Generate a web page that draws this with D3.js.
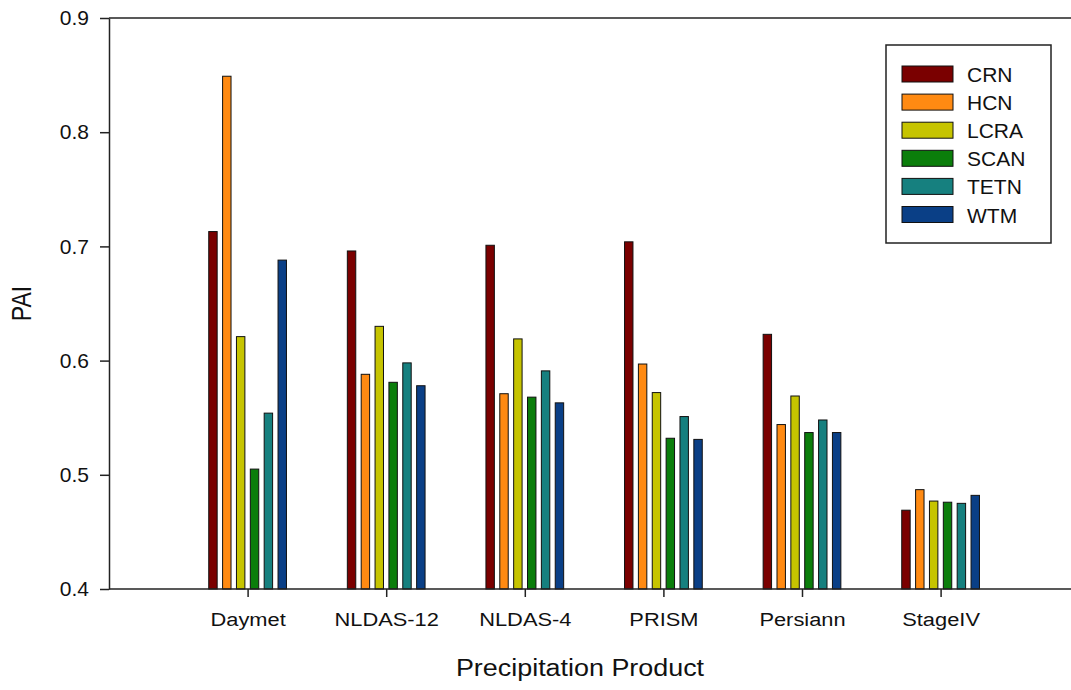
<!DOCTYPE html>
<html>
<head>
<meta charset="utf-8">
<script src="https://cdn.jsdelivr.net/npm/d3@7"></script>
<style>
  body { margin: 0; background: #fff; }
  svg { display: block; }
  text { font-family: "Liberation Sans", Arial, sans-serif; fill: #111; }
</style>
</head>
<body>
<div id="chart"></div>
<script>
// PAI per precipitation product, one array per station network
const products = ['Daymet', 'NLDAS-12', 'NLDAS-4', 'PRISM', 'Persiann', 'StageIV'];
const networks = ['CRN', 'HCN', 'LCRA', 'SCAN', 'TETN', 'WTM'];
const crn  = [0.713, 0.696, 0.701, 0.704, 0.623, 0.469];
const hcn  = [0.849, 0.588, 0.571, 0.597, 0.544, 0.487];
const lcra = [0.621, 0.630, 0.619, 0.572, 0.569, 0.477];
const scan = [0.505, 0.581, 0.568, 0.532, 0.537, 0.476];
const tetn = [0.554, 0.598, 0.591, 0.551, 0.548, 0.475];
const wtm  = [0.688, 0.578, 0.563, 0.531, 0.537, 0.482];
const yTicks = [0.4, 0.5, 0.6, 0.7, 0.8, 0.9];
const colors = ['#7a0000', '#ff8a12', '#c6c400', '#0b7e0b', '#16807f', '#0a3f86'];

const series = [crn, hcn, lcra, scan, tetn, wtm];

const width = 1071, height = 690;
const plotLeft = 109, plotTop = 18, plotBottom = 589;
const step = 138.6; // px between product ticks

const svg = d3.select('#chart')
  .append('svg')
  .attr('width', width)
  .attr('height', height);

const xScale = d3.scaleLinear().domain([0, 7]).range([plotLeft, plotLeft + 7 * step]);
const yScale = d3.scaleLinear().domain([0.4, 0.9]).range([plotBottom, plotTop]);

// flatten into one row per bar
const rows = [];
products.forEach((p, i) => {
  series.forEach((s, j) => {
    rows.push({ product: p, i: i, j: j, value: s[i] });
  });
});

const slot = 0.1;     // share of a category step per bar
const barW = 0.068 * step;

svg.selectAll('.bar')
  .data(rows)
  .enter()
  .append('rect')
  .attr('class', 'bar')
  .attr('x', d => xScale(d.i + 1 + (d.j - 2.5) * slot) - barW / 2 + 0.5)
  .attr('y', d => yScale(d.value))
  .attr('width', barW - 1)
  .attr('height', d => yScale(0.4) - yScale(d.value))
  .attr('fill', d => colors[d.j])
  .attr('stroke', '#111')
  .attr('stroke-width', 1);

// y axis
const yAxis = svg.append('g')
  .attr('transform', `translate(${plotLeft},0)`)
  .call(d3.axisLeft(yScale).tickValues(yTicks).tickFormat(d3.format('.1f')).tickSize(9).tickSizeOuter(0).tickPadding(11));
yAxis.selectAll('text').style('font-size', '21px');

// x axis
const xAxis = svg.append('g')
  .attr('transform', `translate(0,${plotBottom})`)
  .call(d3.axisBottom(xScale)
    .tickValues(d3.range(1, products.length + 1))
    .tickFormat(d => products[d - 1])
    .tickSize(8).tickSizeOuter(0).tickPadding(16));
xAxis.select('.domain').remove();
xAxis.selectAll('text')
  .style('font-size', '19px')
  .attr('transform', 'scale(1.15,1)');

svg.selectAll('.domain, .tick line').attr('stroke', '#222').attr('stroke-width', 1.5);

// top and bottom frame lines run to the right edge
svg.append('line')
  .attr('x1', plotLeft).attr('x2', width)
  .attr('y1', plotTop).attr('y2', plotTop)
  .attr('stroke', '#222').attr('stroke-width', 1.5);
svg.append('line')
  .attr('x1', plotLeft).attr('x2', width)
  .attr('y1', plotBottom).attr('y2', plotBottom)
  .attr('stroke', '#222').attr('stroke-width', 1.5);

// axis titles
svg.append('text')
  .attr('transform', `translate(${(plotLeft + width) / 2 - 10},676) scale(1.17,1)`)
  .attr('text-anchor', 'middle')
  .style('font-size', '23px')
  .text('Precipitation Product');

svg.append('text')
  .attr('transform', `translate(31,${(plotTop + plotBottom) / 2}) rotate(-90) scale(1,1.17)`)
  .attr('text-anchor', 'middle')
  .style('font-size', '23px')
  .text('PAI');

// legend
const legend = svg.append('g').attr('transform', 'translate(886,45)');
legend.append('rect')
  .attr('width', 165).attr('height', 198)
  .attr('fill', '#fff')
  .attr('stroke', '#222').attr('stroke-width', 1.5);

const items = legend.selectAll('.item')
  .data(networks)
  .enter()
  .append('g')
  .attr('class', 'item')
  .attr('transform', (d, i) => `translate(16,${21 + i * 28.1})`);

items.append('rect')
  .attr('width', 51).attr('height', 16)
  .attr('fill', (d, i) => colors[i])
  .attr('stroke', '#111').attr('stroke-width', 1);

items.append('text')
  .attr('x', 65).attr('y', 16)
  .style('font-size', '21px')
  .text(d => d);
</script>
</body>
</html>
